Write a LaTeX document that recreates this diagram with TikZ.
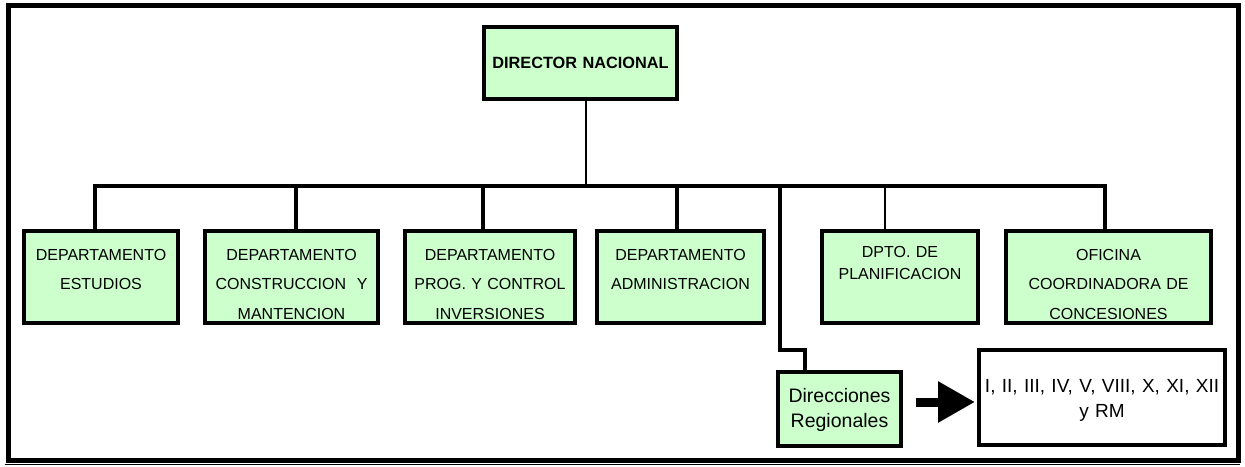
\documentclass[tikz,border=0pt]{standalone}
\usepackage{fontspec}
\setmainfont{Liberation Sans}
\usetikzlibrary{positioning,arrows.meta}
\definecolor{boxgreen}{RGB}{204,255,204}

\begin{document}
\begin{tikzpicture}[x=1pt, y=-1pt,
    box/.style={draw, line width=4pt, fill=boxgreen, inner sep=0pt, align=center},
    dept/.style={box, text width=#1, text height=29pt, text depth=63pt,
      font=\fontsize{16}{29.5}\selectfont},
    link/.style={line width=3.5pt, line cap=rect},
    thinlink/.style={line width=2.2pt, line cap=rect}]

    \useasboundingbox (0,0) rectangle (1245,466);

    % Frame
    \draw[line width=4.5pt] (8.5,5.3) rectangle (1238.5,460.7);
    \draw[line width=1pt] (5,464.6) -- (1240,464.6);

    % Nodes
    \node[box, text width=193pt, minimum height=72pt,
      font=\bfseries\fontsize{16.3}{20}\selectfont] (director) at (580.5,63) {DIRECTOR NACIONAL};

    \node[dept=154pt] (estudios) at (101,277) {DEPARTAMENTO\\ESTUDIOS};
    \node[dept=173pt] (construccion) at (291.5,277) {DEPARTAMENTO\\CONSTRUCCION\ \ Y\\MANTENCION};
    \node[dept=170pt] (inversiones) at (490,277) {DEPARTAMENTO\\PROG. Y CONTROL\\INVERSIONES};
    \node[dept=167pt] (administracion) at (680.5,277) {DEPARTAMENTO\\ADMINISTRACION};
    \node[dept=156pt, text height=26pt, text depth=66pt,
      font=\fontsize{16}{22}\selectfont] (planificacion) at (900,277) {DPTO. DE\\PLANIFICACION};
    \node[dept=205pt] (concesiones) at (1108.5,277) {OFICINA\\COORDINADORA DE\\CONCESIONES};

    \node[box, text width=123pt, text height=30pt, text depth=44pt,
      font=\fontsize{19.5}{25}\selectfont] (direcciones) at (839.5,409) {Direcciones\\Regionales};
    \node[box, fill=white, text width=246pt, text height=42pt, text depth=53pt,
      font=\fontsize{19}{25}\selectfont] (regiones) at (1102,397.5) {I, II, III, IV, V, VIII, X, XI, XII\\y RM};

    % Bus points
    \coordinate (top) at (586,186);
    \coordinate (b1) at (95,186);
    \coordinate (b2) at (296,186);
    \coordinate (b3) at (483,186);
    \coordinate (b4) at (677,186);
    \coordinate (b5) at (780,186);
    \coordinate (b6) at (885,186);
    \coordinate (b7) at (1105,186);
    \coordinate (elbow) at (805,350);

    % Lines
    \draw[thinlink] (director.south -| top) -- (top);
    \draw[link] (b1) -- (b7);
    \draw[link] (b1) -- (b1 |- estudios.north);
    \draw[link] (b2) -- (b2 |- construccion.north);
    \draw[link] (b3) -- (b3 |- inversiones.north);
    \draw[link] (b4) -- (b4 |- administracion.north);
    \draw[thinlink] (b6) -- (b6 |- planificacion.north);
    \draw[link] (b7) -- (b7 |- concesiones.north);
    \draw[link] (b5) |- (elbow) -- (elbow |- direcciones.north);

    % Arrow
    \draw[line width=9pt, -{Triangle[length=37pt,width=39pt]}, shorten <=13pt, shorten >=2pt]
      ([yshift=7pt]direcciones.east) -- ([yshift=7pt]direcciones.east -| regiones.west);
\end{tikzpicture}
\end{document}
